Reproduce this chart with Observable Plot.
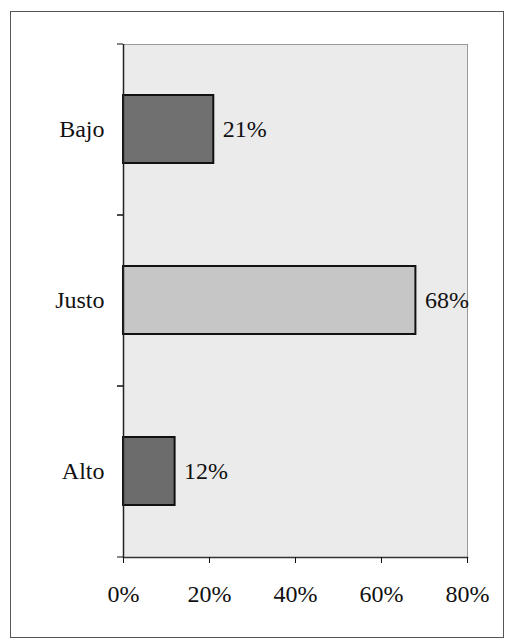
<!DOCTYPE html>
<html>
<head>
<meta charset="utf-8">
<script src="https://cdn.jsdelivr.net/npm/d3@7"></script>
<script src="https://cdn.jsdelivr.net/npm/@observablehq/plot@0.6"></script>
<style>
  html, body { margin: 0; padding: 0; background: #fff; }
  #wrap { position: relative; width: 512px; height: 641px; }
  #box { position: absolute; left: 10px; top: 11px; width: 494px; height: 627px; border: 1px solid #555; box-sizing: border-box; }
  #chart { position: absolute; left: 0; top: 0; }
</style>
</head>
<body>
<div id="wrap"><div id="box"></div><div id="chart"></div></div>
<script>
const categories = ["Bajo", "Justo", "Alto"];
const values = [0.21, 0.68, 0.12];
const labels = ["21%", "68%", "12%"];
const xTicks = [0, 0.2, 0.4, 0.6, 0.8];
const barColors = ["#707070", "#c6c6c6", "#6c6c6c"];

const data = categories.map((c, i) => ({cat: c, v: values[i], label: labels[i], color: barColors[i]}));

const W = 512, H = 641, mL = 123, mR = 45, mT = 44, mB = 84;
const step = (H - mT - mB) / categories.length;
const font = "'Liberation Serif', 'Times New Roman', serif";

const chart = Plot.plot({
  width: W, height: H,
  marginLeft: mL, marginRight: mR, marginTop: mT, marginBottom: mB,
  style: {fontFamily: font, fontSize: "24px", color: "#111", background: "transparent"},
  x: {domain: [0, 0.8], ticks: xTicks, tickFormat: d3.format(".0%"), label: null},
  y: {domain: categories, paddingInner: 0.6, paddingOuter: 0.3, label: null},
  marks: [
    Plot.frame({fill: "#ebebeb", stroke: "#9a9a9a"}),
    Plot.barX(data, {x: "v", y: "cat", fill: "color", stroke: "#111", strokeWidth: 2}),
    Plot.text(data, {x: "v", y: "cat", text: "label", textAnchor: "start", dx: 9, fontSize: 24, fill: "#111"}),
    Plot.ruleX([0], {stroke: "#222", strokeWidth: 1.5}),
    Plot.frame({anchor: "bottom", stroke: "#333", strokeWidth: 1.5}),
    Plot.axisX({ticks: xTicks, tickFormat: d3.format(".0%"), tickSize: 6, tickPadding: 21, fontSize: 24, label: null}),
    Plot.axisY({tickSize: 0, tickPadding: 19, fontSize: 24, label: null}),
    Plot.axisY({tickSize: 6, text: null, dy: -step / 2, label: null}),
    Plot.axisY({tickSize: 6, text: null, dy: step / 2, label: null})
  ]
});
document.getElementById("chart").appendChild(chart);
</script>
</body>
</html>
